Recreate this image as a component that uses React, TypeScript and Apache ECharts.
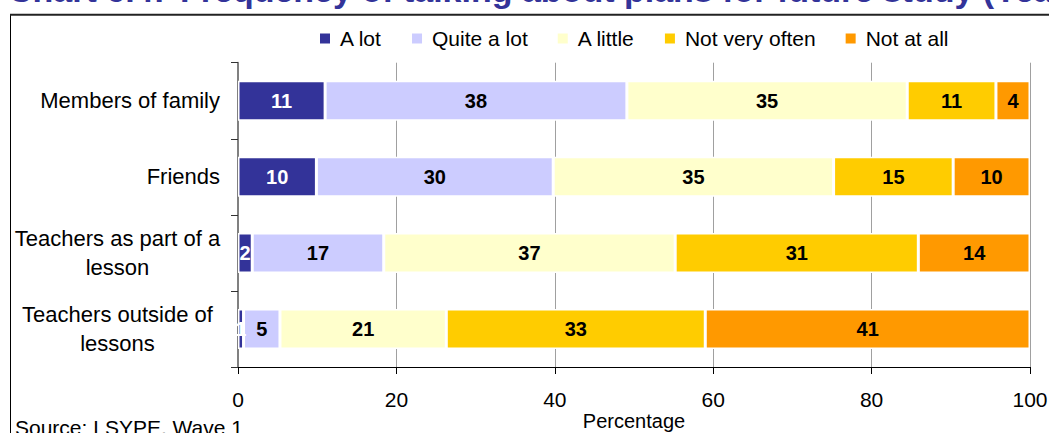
import React, { useEffect, useRef } from "react";
import * as echarts from "echarts";

const categories = [
  "Members of family",
  "Friends",
  "Teachers as part of a\nlesson",
  "Teachers outside of\nlessons",
];
const seriesNames = ["A lot", "Quite a lot", "A little", "Not very often", "Not at all"];
const aLot = [11.0, 9.9, 1.8, 0.7];
const quiteALot = [38.1, 29.9, 16.6, 4.6];
const aLittle = [35.4, 35.4, 36.8, 21.0];
const notVeryOften = [11.2, 15.1, 30.7, 32.7];
const notAtAll = [4.3, 9.7, 14.1, 41.0];
const xTicks = [0, 20, 40, 60, 80, 100];
const colors = ["#333399", "#CCCCFF", "#FFFFCC", "#FFCC00", "#FF9900"];
const labelColors = ["#FFFFFF", "#000000", "#000000", "#000000", "#000000"];

const FONT = "'Liberation Sans', Arial, Helvetica, sans-serif";

export default function App() {
  const ref = useRef<HTMLDivElement>(null);
  useEffect(() => {
    document.body.style.margin = "0";
    const chart = echarts.init(ref.current!, null, { renderer: "svg" });
    const values = [aLot, quiteALot, aLittle, notVeryOften, notAtAll];
    const series = values.map((data, i) => ({
      name: seriesNames[i],
      type: "bar",
      stack: "total",
      barWidth: 40,
      data,
      itemStyle: { color: colors[i], borderColor: "#FFFFFF", borderWidth: 1.5 },
      label: {
        show: true,
        position: "inside",
        formatter: (p: any) => String(Math.round(p.value)),
        color: labelColors[i],
        fontFamily: FONT,
        fontWeight: "bold",
        fontSize: 20,
      },
      emphasis: { disabled: true },
    }));
    chart.setOption({
      animation: false,
      textStyle: { fontFamily: FONT },
      graphic: [
        {
          type: "text",
          x: 8,
          y: -10,
          style: {
            text: "Chart 6.4:",
            fill: "#333399",
            font: `bold 34px ${FONT}`,
            verticalAlign: "middle",
          },
        },
        {
          type: "text",
          x: 180,
          y: -10,
          style: {
            text: "Frequency of talking about plans for future study (Year 9)",
            fill: "#333399",
            font: `bold 34px ${FONT}`,
            verticalAlign: "middle",
          },
        },
        {
          type: "rect",
          shape: { x: 10.5, y: 14.5, width: 1100, height: 500 },
          style: { fill: "none", stroke: "#000", lineWidth: 1 },
        },
        {
          type: "line",
          shape: { x1: 10, y1: 14.8, x2: 1049, y2: 14.8 },
          style: { stroke: "#222", lineWidth: 2 },
        },
        {
          type: "text",
          x: 15,
          y: 427,
          style: {
            text: "Source: LSYPE, Wave 1",
            fill: "#000",
            font: `21px ${FONT}`,
            verticalAlign: "middle",
          },
        },
      ],
      legend: {
        top: 23,
        left: 313,
        itemWidth: 12,
        itemHeight: 12,
        itemGap: 28,
        icon: "rect",
        textStyle: {
          fontFamily: FONT,
          fontSize: 21,
          color: "#000",
          padding: [0, 0, 0, 4],
        },
        data: seriesNames,
      },
      grid: { left: 238, right: 19, top: 62.7, bottom: 66, outerBoundsMode: "none", containLabel: false },
      xAxis: {
        type: "value",
        min: 0,
        max: 100,
        interval: 20,
        name: "Percentage",
        nameLocation: "middle",
        nameGap: 54,
        nameMoveOverlap: false,
        nameTextStyle: { fontSize: 20, color: "#000", fontFamily: FONT, verticalAlign: "middle" },
        axisLine: { show: true, lineStyle: { color: "#000", width: 1 } },
        axisTick: { show: true, length: 7, lineStyle: { color: "#000" } },
        axisLabel: {
          margin: 22,
          fontSize: 21,
          color: "#000",
          fontFamily: FONT,
          formatter: (v: number) => (xTicks.includes(v) ? String(v) : ""),
        },
        splitLine: { show: true, lineStyle: { color: "#A0A0A0", width: 1 } },
      },
      yAxis: {
        type: "category",
        inverse: true,
        data: categories,
        axisLine: { show: true, lineStyle: { color: "#808080", width: 2 } },
        axisTick: { show: true, length: 7, inside: false, lineStyle: { color: "#333" } },
        axisLabel: {
          margin: 18,
          fontSize: 22,
          color: "#000",
          fontFamily: FONT,
          lineHeight: 29,
          formatter: (v: string) => {
            const lines = v.split("\n");
            if (lines.length === 1) return v;
            return lines.map((l) => `{c|${l}}`).join("\n");
          },
          rich: {
            c: {
              width: 205,
              align: "center",
              fontSize: 22,
              lineHeight: 29,
              fontFamily: FONT,
              color: "#000",
            },
          },
        },
      },
      series,
    });
    return () => chart.dispose();
  }, []);
  return <div ref={ref} style={{ width: 1049, height: 433 }} />;
}
